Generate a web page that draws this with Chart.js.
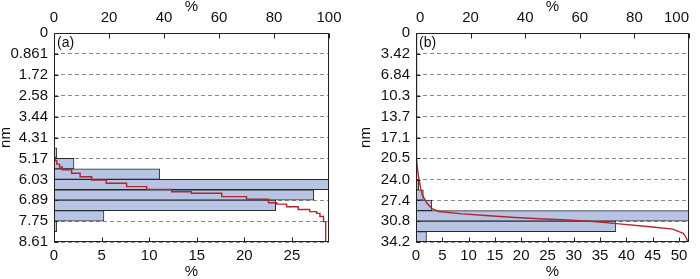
<!DOCTYPE html>
<html>
<head>
<meta charset="utf-8">
<script src="https://cdn.jsdelivr.net/npm/chart.js@4.4.1/dist/chart.umd.min.js"></script>
<style>
  html, body { margin: 0; padding: 0; background: #fff; overflow: hidden; }
  .panel { position: absolute; top: 0; width: 350px; height: 279px; }
</style>
</head>
<body>
<div class="panel" style="left:0"><canvas id="chart-a" width="350" height="279"></canvas></div>
<div class="panel" style="left:350px"><canvas id="chart-b" width="350" height="279"></canvas></div>
<script>
// ---- panel (a) ----
var nmTicksA = [0, 0.861, 1.72, 2.58, 3.44, 4.31, 5.17, 6.03, 6.89, 7.75, 8.61];
var nmLabelsA = ['0', '0.861', '1.72', '2.58', '3.44', '4.31', '5.17', '6.03', '6.89', '7.75', '8.61'];
var binCentersA = [4.9508, 5.3813, 5.8118, 6.2423, 6.6728, 7.1033, 7.5338, 7.9643, 8.3948];
var binPctA = [0.3, 2.1, 11.1, 28.9, 27.3, 23.3, 5.25, 0.3, 0];
// cumulative curve (top axis), read step by step
var cumNmA = [0, 4.75, 5.12, 5.25, 5.4, 5.52, 5.64, 5.78, 5.92, 6.06, 6.19, 6.33, 6.44, 6.54, 6.6, 6.74, 6.85, 6.99, 7.05, 7.16, 7.27, 7.36, 7.43, 7.56, 7.77, 8.61];
var cumPctA = [0, 0, 0.4, 1.0, 2.0, 3.0, 6.4, 9.5, 13.7, 19, 26.4, 33.7, 42.8, 50, 61, 70, 78, 81, 84.6, 88.8, 93, 95.5, 96.7, 98, 98.8, 99.3];
var pctMaxA = 28.9;

// ---- panel (b) ----
var nmTicksB = [0, 3.42, 6.84, 10.3, 13.7, 17.1, 20.5, 24.0, 27.4, 30.8, 34.2];
var nmLabelsB = ['0', '3.42', '6.84', '10.3', '13.7', '17.1', '20.5', '24.0', '27.4', '30.8', '34.2'];
var binCentersB = [23.085, 24.795, 26.505, 28.215, 29.925, 31.635, 33.345];
var binPctB = [0.2, 0.5, 1.4, 3.0, 51.9, 38.0, 2.0];
var cumNmB = [0, 17, 20.5, 22.4, 24, 25.4, 26.5, 27.9, 28.8, 29.2, 29.6, 29.9, 30.2, 30.4, 30.55, 30.85, 31.2, 31.7, 32.1, 32.8, 33.5, 34.15];
var cumPctB = [0, 0.1, 0.3, 0.6, 1.1, 1.7, 2.3, 4.1, 6.0, 8.4, 16.9, 26.7, 36.4, 45, 53.5, 65, 73.5, 85.7, 94, 97.9, 99, 99.6];
var pctMaxB = 51.9;

Chart.defaults.font.family = 'Arial, "Liberation Sans", sans-serif';
Chart.defaults.font.size = 15;
Chart.defaults.color = '#111';

// frame round the plot, inward tick marks and panel letter
var frameTicks = {
  id: 'frameTicks',
  afterDraw: function(chart, args, opts) {
    var ctx = chart.ctx, a = chart.chartArea;
    var L = Math.round(a.left) + 0.5, R = Math.round(a.right) - 0.5;
    var T = Math.round(a.top) + 0.5, B = Math.round(a.bottom) - 0.5;
    ctx.save();
    ctx.strokeStyle = '#222';
    ctx.lineWidth = 1;
    ctx.beginPath();
    chart.scales.x.ticks.forEach(function(t) {
      var px = Math.round(chart.scales.x.getPixelForValue(t.value)) + 0.5;
      ctx.moveTo(px, B); ctx.lineTo(px, B - 4);
    });
    chart.scales.x2.ticks.forEach(function(t) {
      var px = Math.round(chart.scales.x2.getPixelForValue(t.value)) + 0.5;
      ctx.moveTo(px, T); ctx.lineTo(px, T + 5);
    });
    chart.scales.y.ticks.forEach(function(t) {
      var py = Math.round(chart.scales.y.getPixelForValue(t.value)) + 0.5;
      ctx.moveTo(L, py); ctx.lineTo(L + 4, py);
    });
    ctx.stroke();
    ctx.strokeRect(L, T, R - L, B - T);
    ctx.fillStyle = '#111';
    ctx.font = '14px Arial, "Liberation Sans", sans-serif';
    ctx.textBaseline = 'top';
    ctx.fillText(opts.label, a.left + 3, a.top + 3);
    ctx.restore();
  }
};

makePanel = function(canvasId, label, nmTicks, nmLabels, binCenters, binPct, cumNm, cumPct, pctMax, stepped, yWidth, nmPad, rightPad, topAlign) {
  var ctx = document.getElementById(canvasId).getContext('2d');
  return new Chart(ctx, {
    type: 'bar',
    data: {
      datasets: [{
        type: 'line',
        indexAxis: 'y',
        xAxisID: 'x2',
        yAxisID: 'y',
        data: cumNm.map(function(v, i) { return {x: cumPct[i], y: v}; }),
        borderColor: '#b3262c',
        borderWidth: 1.4,
        pointRadius: 0,
        stepped: stepped ? 'after' : false,
        tension: 0
      }, {
        type: 'bar',
        indexAxis: 'y',
        xAxisID: 'x',
        yAxisID: 'y',
        data: binCenters.map(function(v, i) { return {x: binPct[i], y: v}; }),
        backgroundColor: '#b7c4e3',
        borderColor: '#2a2a2a',
        borderWidth: 1,
        borderSkipped: false,
        grouped: false,
        barPercentage: 1,
        categoryPercentage: 1
      }]
    },
    options: {
      responsive: false,
      animation: false,
      datasets: {
        bar: { barPercentage: 1, categoryPercentage: 1, grouped: false }
      },
      layout: { padding: { left: 0, right: rightPad, top: 0, bottom: 0 } },
      plugins: {
        legend: { display: false },
        tooltip: { enabled: false },
        frameTicks: { label: label }
      },
      scales: {
        y: {
          type: 'linear',
          position: 'left',
          reverse: true,
          offset: false,
          min: 0,
          max: nmTicks[nmTicks.length - 1],
          afterBuildTicks: function(scale) {
            scale.ticks = nmTicks.map(function(v) { return {value: v}; });
          },
          afterFit: function(scale) { scale.width = yWidth; },
          ticks: {
            padding: 6,
            autoSkip: false,
            callback: function(value, index) { return nmLabels[index]; }
          },
          grid: {
            color: '#8a8a8a',
            lineWidth: 1,
            offset: false,
            drawTicks: false
          },
          border: { display: false, dash: [4, 3] },
          title: {
            display: true,
            text: 'nm',
            font: { size: 15, lineHeight: 1 },
            padding: { top: nmPad, bottom: 0 }
          }
        },
        x: {
          type: 'linear',
          position: 'bottom',
          offset: false,
          min: 0,
          max: pctMax,
          afterFit: function(scale) {
            scale.height = 37;
            scale.paddingLeft = 0;
            scale.paddingRight = 0;
          },
          ticks: { stepSize: 5, includeBounds: false, padding: 5, maxRotation: 0, autoSkip: false },
          grid: { display: false, offset: false, drawTicks: false },
          border: { display: false },
          title: {
            display: true,
            text: '%',
            font: { size: 15, lineHeight: 1 },
            padding: { top: 0, bottom: 0 }
          }
        },
        x2: {
          type: 'linear',
          position: 'top',
          offset: false,
          min: 0,
          max: 100,
          afterFit: function(scale) {
            scale.height = 33;
            scale.paddingLeft = 0;
            scale.paddingRight = 0;
          },
          ticks: { stepSize: 20, padding: 6, maxRotation: 0, autoSkip: false, align: topAlign },
          grid: { display: false, offset: false, drawTicks: false },
          border: { display: false },
          title: {
            display: true,
            text: '%',
            font: { size: 15, lineHeight: 1 },
            padding: { top: -1, bottom: 0 }
          }
        }
      }
    },
    plugins: [frameTicks]
  });
}

makePanel('chart-a', '(a)', nmTicksA, nmLabelsA, binCentersA, binPctA, cumNmA, cumPctA, pctMaxA, true, 54, -2, 21, 'center');
makePanel('chart-b', '(b)', nmTicksB, nmLabelsB, binCentersB, binPctB, cumNmB, cumPctB, pctMaxB, false, 66, 8, 11, 'inner');
</script>
</body>
</html>
